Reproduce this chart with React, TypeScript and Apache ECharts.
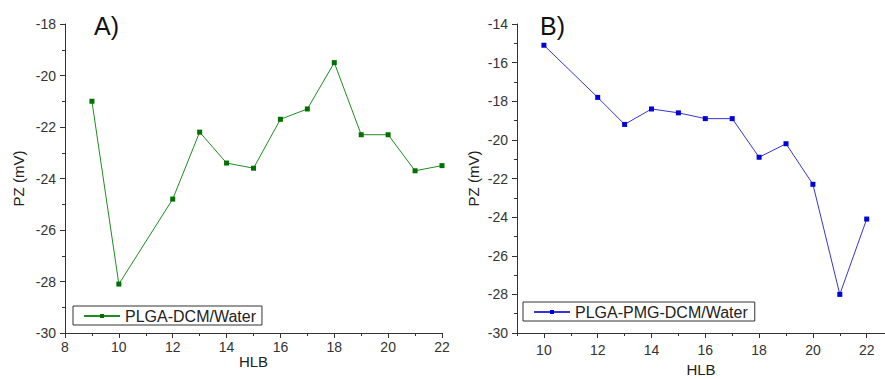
import React, { useEffect, useRef } from "react";
import * as echarts from "echarts";

const hlbA = [9, 10, 12, 13, 14, 15, 16, 17, 18, 19, 20, 21, 22];
const pzA = [-21.0, -28.1, -24.8, -22.2, -23.4, -23.6, -21.7, -21.3, -19.5, -22.3, -22.3, -23.7, -23.5];
const hlbB = [10, 12, 13, 14, 15, 16, 17, 18, 19, 20, 21, 22];
const pzB = [-15.1, -17.8, -19.2, -18.4, -18.6, -18.9, -18.9, -20.9, -20.2, -22.3, -28.0, -24.1];
const xTicksB = [10, 12, 14, 16, 18, 20, 22];
const xMinorB = [9, 11, 13, 15, 17, 19, 21];
const seriesNames = ["PLGA-DCM/Water", "PLGA-PMG-DCM/Water"];
const panelTitles = ["A)", "B)"];

const FONT = "Liberation Sans, Arial, sans-serif";
const TXT = "#222";
const AX = "#333";

export default function App() {
  const ref = useRef<HTMLDivElement>(null);
  useEffect(() => {
    const chart = echarts.init(ref.current!, null, { renderer: "svg" });
    const axisLine = { show: true, lineStyle: { color: AX, width: 1 } };
    const label = { color: "#333", fontSize: 14, fontFamily: FONT };
    const nameStyle = { color: TXT, fontSize: 15, fontFamily: FONT };
    chart.setOption({
      animation: false,
      backgroundColor: "#fff",
      textStyle: { fontFamily: FONT },
      grid: [
        { left: 65, top: 24, width: 377, height: 309, containLabel: false, outerBoundsMode: "none" },
        { left: 517, top: 24, width: 368, height: 309, containLabel: false, outerBoundsMode: "none" },
      ],
      title: [
        { text: panelTitles[0], left: 89, top: 8, textStyle: { fontSize: 25, fontWeight: "normal", color: "#111", fontFamily: FONT } },
        { text: panelTitles[1], left: 535, top: 8, textStyle: { fontSize: 25, fontWeight: "normal", color: "#111", fontFamily: FONT } },
      ],
      legend: [
        {
          data: [seriesNames[0]],
          left: 73, top: 306,
          orient: "horizontal",
          borderColor: "#333", borderWidth: 1, borderRadius: 0,
          padding: [2, 6, 1, 10],
          itemWidth: 36, itemHeight: 5, itemGap: 5,
          textStyle: { fontSize: 16, color: TXT, fontFamily: FONT },
        },
        {
          data: [seriesNames[1]],
          left: 523, top: 302,
          orient: "horizontal",
          borderColor: "#333", borderWidth: 1, borderRadius: 0,
          padding: [2, 7, 1, 10],
          itemWidth: 36, itemHeight: 5, itemGap: 5,
          textStyle: { fontSize: 16, color: TXT, fontFamily: FONT },
        },
      ],
      xAxis: [
        {
          type: "value", gridIndex: 0, min: 8, max: 22, interval: 2,
          name: "HLB", nameLocation: "middle", nameGap: 21, nameMoveOverlap: false, nameTextStyle: nameStyle,
          axisLine, splitLine: { show: false },
          axisTick: { show: true, length: 5, lineStyle: { color: AX } },
          minorTick: { show: true, splitNumber: 2, length: 3, lineStyle: { color: AX } },
          axisLabel: { ...label, margin: 7 },
        },
        {
          type: "value", gridIndex: 1, min: 9, max: 22.68,
          name: "HLB", nameLocation: "middle", nameGap: 29, nameMoveOverlap: false, nameTextStyle: nameStyle,
          axisLine, splitLine: { show: false },
          axisTick: { show: true, length: 5, customValues: xTicksB, lineStyle: { color: AX } },
          axisLabel: { ...label, margin: 10, customValues: xTicksB },
        },
        {
          type: "value", gridIndex: 1, min: 9, max: 22.68, position: "bottom", offset: 0,
          axisLine, splitLine: { show: false },
          axisTick: { show: true, length: 3, customValues: xMinorB, lineStyle: { color: AX } },
          axisLabel: { show: false, customValues: xMinorB },
        },
      ],
      yAxis: [
        {
          type: "value", gridIndex: 0, min: -30, max: -18, interval: 2,
          name: "PZ (mV)", nameLocation: "middle", nameGap: 39, nameMoveOverlap: false, nameTextStyle: nameStyle,
          axisLine, splitLine: { show: false },
          axisTick: { show: true, length: 5, lineStyle: { color: AX } },
          minorTick: { show: true, splitNumber: 2, length: 3, lineStyle: { color: AX } },
          axisLabel: { ...label, margin: 9 },
        },
        {
          type: "value", gridIndex: 1, min: -30, max: -14, interval: 2,
          name: "PZ (mV)", nameLocation: "middle", nameGap: 36, nameMoveOverlap: false, nameTextStyle: nameStyle,
          axisLine, splitLine: { show: false },
          axisTick: { show: true, length: 5, lineStyle: { color: AX } },
          minorTick: { show: true, splitNumber: 2, length: 3, lineStyle: { color: AX } },
          axisLabel: { ...label, margin: 9 },
        },
      ],
      series: [
        {
          name: seriesNames[0], type: "line", xAxisIndex: 0, yAxisIndex: 0,
          data: hlbA.map((x, i) => [x, pzA[i]]),
          symbol: "rect", symbolSize: 5,
          lineStyle: { color: "#1f8c1f", width: 1 },
          itemStyle: { color: "#007000" },
        },
        {
          name: seriesNames[1], type: "line", xAxisIndex: 1, yAxisIndex: 1,
          data: hlbB.map((x, i) => [x, pzB[i]]),
          symbol: "rect", symbolSize: 5,
          lineStyle: { color: "#3535d8", width: 1 },
          itemStyle: { color: "#0000d8" },
        },
      ],
    });
    return () => chart.dispose();
  }, []);
  return (
    <div
      ref={ref}
      style={{ position: "fixed", left: 0, top: 0, width: 885, height: 379, background: "#fff" }}
    />
  );
}
